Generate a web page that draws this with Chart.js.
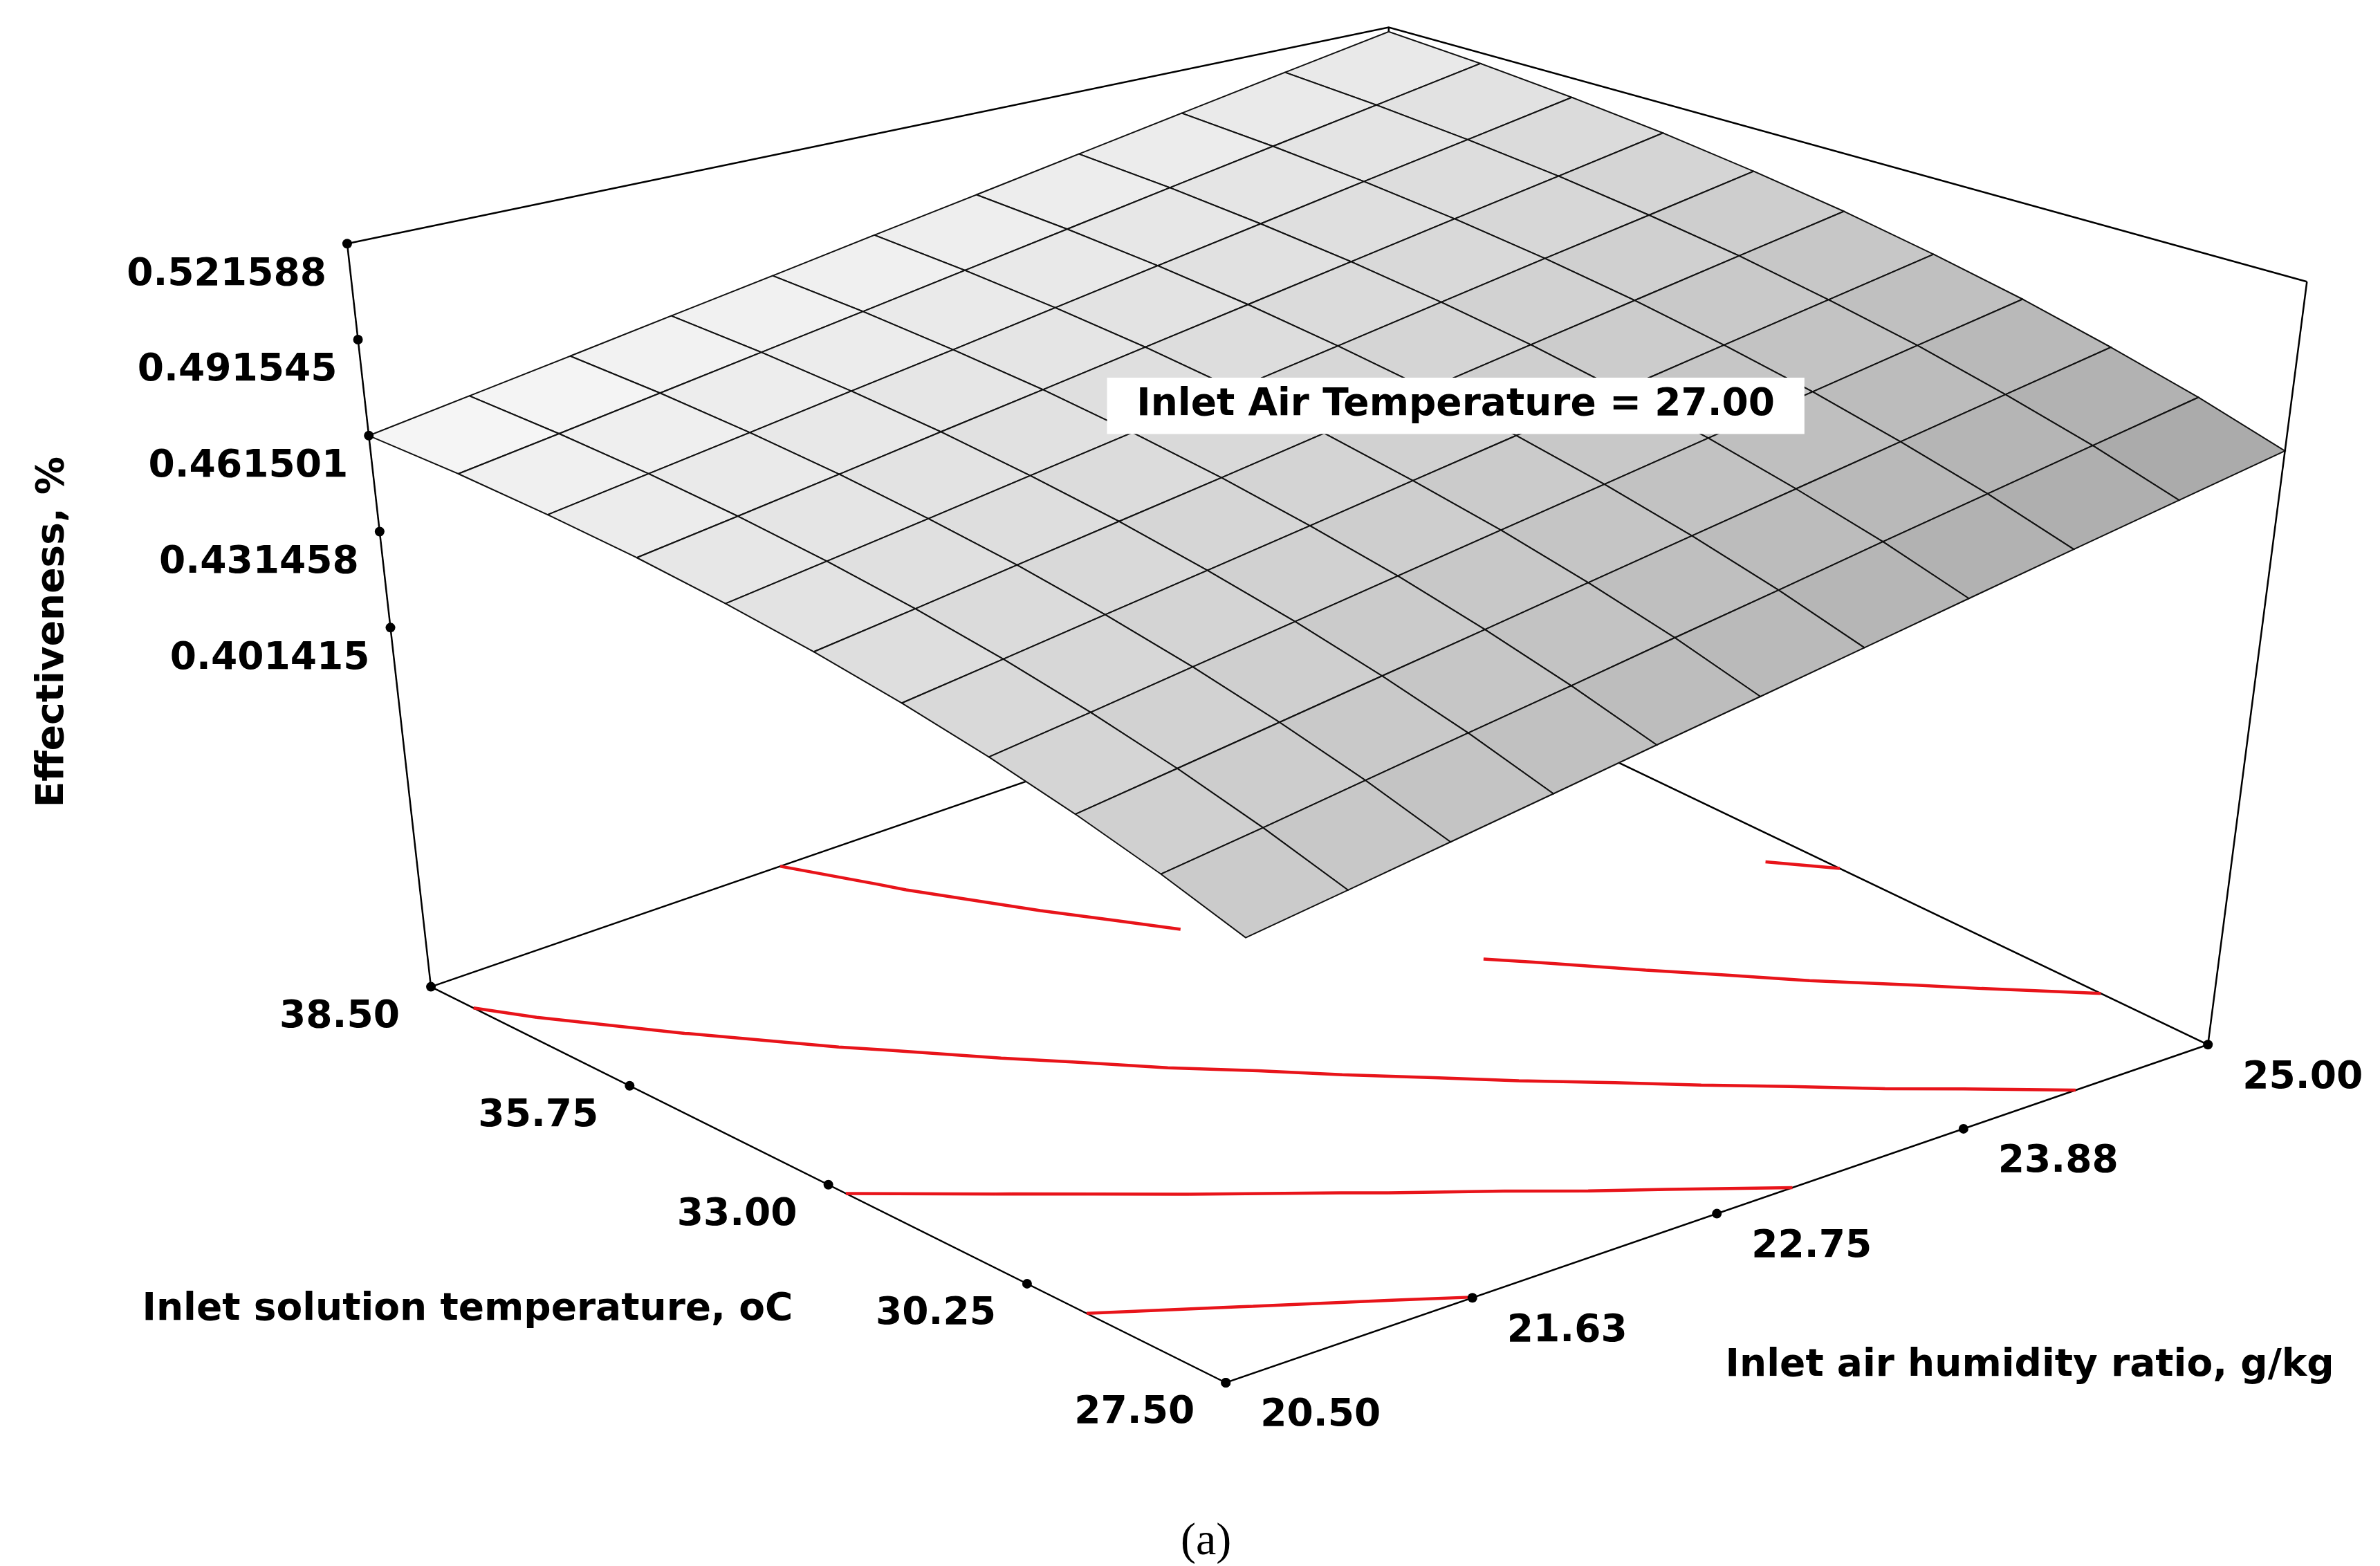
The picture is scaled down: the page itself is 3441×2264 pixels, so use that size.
<!DOCTYPE html>
<html><head><meta charset="utf-8">
<script src="https://cdn.jsdelivr.net/npm/chart.js@4.4.1/dist/chart.umd.min.js"></script>
<style>html,body{margin:0;padding:0;background:#fff}#w{width:3441px;height:2264px}</style>
</head><body><div id="w"><canvas id="c"></canvas></div>
<script>
// humidity ratio (columns), g/kg
const humidity = [20.5,20.95,21.4,21.85,22.3,22.75,23.2,23.65,24.1,24.55,25.0];
// solution temperature (rows), oC
const solTemp = [38.5,37.4,36.3,35.2,34.1,33.0,31.9,30.8,29.7,28.6,27.5];
// effectiveness rows (one per solTemp)
const eff = [
[.4615,.4663,.4713,.4766,.4820,.4878,.4937,.4999,.5064,.5131,.5200],
[.4587,.4635,.4686,.4739,.4794,.4852,.4912,.4975,.5040,.5107,.5177],
[.4552,.4601,.4652,.4706,.4761,.4820,.4881,.4944,.5010,.5077,.5148],
[.4512,.4561,.4613,.4668,.4724,.4783,.4844,.4908,.4974,.5042,.5114],
[.4465,.4515,.4567,.4622,.4679,.4739,.4800,.4865,.4932,.5000,.5072],
[.4413,.4463,.4517,.4572,.4629,.4690,.4752,.4817,.4884,.4954,.5026],
[.4354,.4405,.4459,.4514,.4572,.4633,.4696,.4761,.4829,.4899,.4972],
[.4290,.4341,.4396,.4452,.4511,.4572,.4635,.4701,.4770,.4841,.4914],
[.4219,.4271,.4326,.4383,.4442,.4504,.4568,.4634,.4703,.4774,.4848],
[.4143,.4195,.4251,.4309,.4368,.4431,.4495,.4563,.4632,.4704,.4778],
[.4060,.4113,.4169,.4227,.4288,.4350,.4415,.4483,.4553,.4625,.4700]];
const zTicks = ['0.521588','0.491545','0.461501','0.431458','0.401415'];
const humTicks = ['20.50','21.63','22.75','23.88','25.00'];
const solTicks = ['38.50','35.75','33.00','30.25','27.50'];
const contourLevels = [0.42,0.44,0.46,0.48,0.50];

const S = 3441/1563;
const ZMIN = 0.289, ZMAX = 0.521588;
const HMIN=20.5,HMAX=25,SMIN=27.5,SMAX=38.5;
const F = {a:[283,648], b:[915,430], c:[805,908], d:[1450,686]};
const T = {a:[228,160], b:[912,18], c:[831,327], d:[1515,185]};
function bil(C,u,v,k){return C.a[k]*(1-u)*(1-v)+C.b[k]*u*(1-v)+C.c[k]*(1-u)*v+C.d[k]*u*v;}
function P(h,s,z){
  const u=(h-HMIN)/(HMAX-HMIN), v=(SMAX-s)/(SMAX-SMIN), t=(z-ZMIN)/(ZMAX-ZMIN);
  const fx=bil(F,u,v,0), fy=bil(F,u,v,1), tx=bil(T,u,v,0), ty=bil(T,u,v,1);
  return {x:(fx+(tx-fx)*t)*S, y:(fy+(ty-fy)*t)*S};
}
const line=(pts,col,w)=>({data:pts,showLine:true,fill:false,borderColor:col,borderWidth:w,pointRadius:0,tension:0,spanGaps:false});

const cpts=[];
for(const L of contourLevels){
  for(let i=0;i<solTemp.length-1;i++)for(let j=0;j<humidity.length-1;j++){
    const c=[[i,j],[i,j+1],[i+1,j+1],[i+1,j]];
    const cr=[];
    for(let k=0;k<4;k++){const p=c[k],q=c[(k+1)%4];const a=eff[p[0]][p[1]],b=eff[q[0]][q[1]];
      if((a-L)*(b-L)<0){const f=(L-a)/(b-a);
        const h=humidity[p[1]]+(humidity[q[1]]-humidity[p[1]])*f, s=solTemp[p[0]]+(solTemp[q[0]]-solTemp[p[0]])*f;
        cr.push(P(h,s,ZMIN));}}
    if(cr.length>=2){cpts.push(cr[0],cr[1],{x:null,y:null});}
  }
}
const ds=[];
const quads=[];
for(let i=0;i<solTemp.length-1;i++)for(let j=0;j<humidity.length-1;j++){
  const pts=[P(humidity[j],solTemp[i],eff[i][j]),P(humidity[j+1],solTemp[i],eff[i][j+1]),
    P(humidity[j+1],solTemp[i+1],eff[i+1][j+1]),P(humidity[j],solTemp[i+1],eff[i+1][j])];
  pts.push(pts[0]);
  const u=(j+0.5)/(humidity.length-1), v=(i+0.5)/(solTemp.length-1);
  const g=Math.round(248-12*u-45*v-25*u*v);
  quads.push({d:(1-u)+v,set:{data:pts,showLine:true,fill:'shape',backgroundColor:`rgb(${g},${g},${g})`,borderColor:'#111',borderWidth:2,pointRadius:0,tension:0}});
}
quads.sort((a,b)=>b.d-a.d);
const c00=[HMIN,SMAX],c10=[HMAX,SMAX],c01=[HMIN,SMIN],c11=[HMAX,SMIN];
ds.push(line([P(...c00,ZMAX),P(...c10,ZMAX),P(...c11,ZMAX)],'#000',2.5));
ds.push(line([P(...c00,ZMAX),P(...c00,ZMIN)],'#000',2.5));
ds.push(line([P(...c11,ZMAX),P(...c11,ZMIN)],'#000',2.5));
for(const q of quads)ds.push(q.set);
ds.push(line([P(...c10,ZMAX),P(...c10,ZMIN)],'#000',2.5));
ds.push(line(cpts,'#e8141a',4.5));
ds.push(line([P(...c00,ZMIN),P(...c01,ZMIN),P(...c11,ZMIN),P(...c10,ZMIN),P(...c00,ZMIN)],'#000',2.5));

const textPlugin={id:'txt',afterDatasetsDraw(ch){
  const x=ch.scales.x,y=ch.scales.y,ctx=ch.ctx;
  const px=p=>[x.getPixelForValue(p.x),y.getPixelForValue(p.y)];
  ctx.save();ctx.fillStyle='#000';ctx.textBaseline='middle';
  ctx.font='bold 55px "DejaVu Sans", sans-serif';
  const dot=(p)=>{const [a,b]=px(p);ctx.beginPath();ctx.arc(a,b,7,0,7);ctx.fill();return [a,b];};
  zTicks.forEach(t=>{const z=parseFloat(t);const [a,b]=dot(P(HMIN,SMAX,z));ctx.textAlign='right';ctx.fillText(t,a-30,b+45);});
  humTicks.forEach(t=>{const [a,b]=dot(P(parseFloat(t),SMIN,ZMIN));ctx.textAlign='left';ctx.fillText(t,a+50,b+48);});
  solTicks.forEach(t=>{const [a,b]=dot(P(HMIN,parseFloat(t),ZMIN));ctx.textAlign='right';ctx.fillText(t,a-45,b+44);});
  ctx.textAlign='center';
  ctx.fillText('Inlet solution temperature, oC',307*S,860*S);
  ctx.fillText('Inlet air humidity ratio, g/kg',1333*S,897*S);
  ctx.save();ctx.translate(35*S,415*S);ctx.rotate(-Math.PI/2);ctx.fillText('Effectiveness, %',0,0);ctx.restore();
  ctx.fillStyle='#fff';ctx.fillRect(727*S,248*S,458*S,37*S);
  ctx.fillStyle='#000';ctx.fillText('Inlet Air Temperature = 27.00',956*S,266*S);
  ctx.font='66px "Liberation Serif", "Times New Roman", serif';ctx.fillText('(a)',792*S,1013*S);
  ctx.restore();}};

new Chart(document.getElementById('c'),{type:'scatter',data:{datasets:ds},plugins:[textPlugin],
 options:{animation:false,responsive:true,maintainAspectRatio:false,layout:{padding:0},
  plugins:{legend:{display:false},tooltip:{enabled:false}},
  scales:{x:{type:'linear',min:0,max:3441,display:false},y:{type:'linear',min:0,max:2264,reverse:true,display:false}}}});
</script></body></html>
